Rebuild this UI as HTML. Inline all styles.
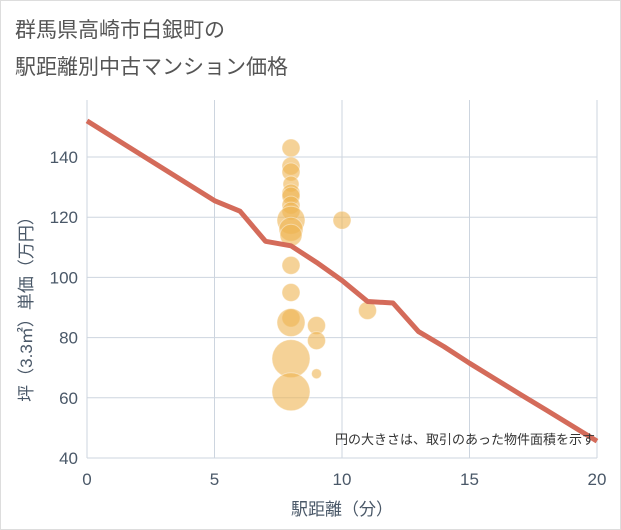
<!DOCTYPE html>
<html><head><meta charset="utf-8"><style>
body{margin:0;background:#fff;}
#wrap{position:relative;width:621px;height:530px;font-family:"Liberation Sans","Noto Sans CJK JP",sans-serif;}
.t{position:absolute;left:15px;color:#555;font-size:21px;}
</style></head><body>
<div id="wrap">
<div class="t" style="top:14px">群馬県高崎市白銀町の</div>
<div class="t" style="top:51px">駅距離別中古マンション価格</div>
<svg id="svg" width="621" height="530" style="position:absolute;left:0;top:0"></svg>
</div>
<script>
const xTicks=[0,5,10,15,20];
const yTicks=[40,60,80,100,120,140];
const lineX=[0,5,6,7,8,9,10,11,12,13,14,15,16,17,18,19,20];
const lineY=[152,125.5,122,112,110.5,105,99,92,91.5,82,77,71.5,66.3,61.1,56,50.8,45.6];
const bubX=[8,8,8,8,8,8,8,8,8,8,8,8,8,8,8,8,8,9,9,9,10,11];
const bubY=[143,137,135,131,128,127,124,122,119,116,114,104,95,86.5,85,73,62,84,79,68,119,89];
const bubR=[9,9,9,8,9,9,9,9,14,12,11,9,9,9,14,19,19,9,9,5,9,9];
const NS="http://www.w3.org/2000/svg";
const svg=document.getElementById('svg');
const X=v=>87+v*25.5, Y=v=>458-(v-40)*3.01;
const TXT='#4a5868';
function mk(t,a,txt){const e=document.createElementNS(NS,t);for(const k in a)e.setAttribute(k,a[k]);if(txt!==undefined)e.textContent=txt;svg.appendChild(e);return e;}
mk('rect',{x:0.5,y:0.5,width:620,height:529,fill:'none',stroke:'#ddd'});
xTicks.forEach(v=>{const g=mk('line',{x1:X(v),x2:X(v),y1:100,y2:458,stroke:'#cdd5df','stroke-width':1});


const t=mk('text',{x:X(v),y:485,'text-anchor':'middle','font-size':17,fill:TXT},v);

});
yTicks.forEach(v=>{const g=mk('line',{x1:87,x2:597,y1:Y(v),y2:Y(v),stroke:'#cdd5df','stroke-width':1});


const t=mk('text',{x:78,y:Y(v)+6,'text-anchor':'end','font-size':17,fill:TXT},v);

});
bubX.forEach((v,i)=>{const c=mk('circle',{cx:X(v),cy:Y(bubY[i]),r:bubR[i],fill:'#efb451','fill-opacity':0.6,stroke:'#fff','stroke-opacity':0.4});

});
const p=mk('polyline',{points:lineX.map((v,i)=>X(v)+','+Y(lineY[i])).join(' '),fill:'none',stroke:'#d46b5a','stroke-width':5,'stroke-linejoin':'round'});


const n=mk('text',{x:595,y:444,'text-anchor':'end','font-size':13,fill:'#333'},'円の大きさは、取引のあった物件面積を示す');


const xt=mk('text',{x:342,y:515,'text-anchor':'middle','font-size':17,fill:TXT},'駅距離（分）');


const yt=mk('text',{x:0,y:0,'text-anchor':'middle','font-size':17,fill:TXT,transform:'translate(32,305) rotate(-90)'},'坪（3.3㎡）単価（万円）');


</script>
</body></html>
